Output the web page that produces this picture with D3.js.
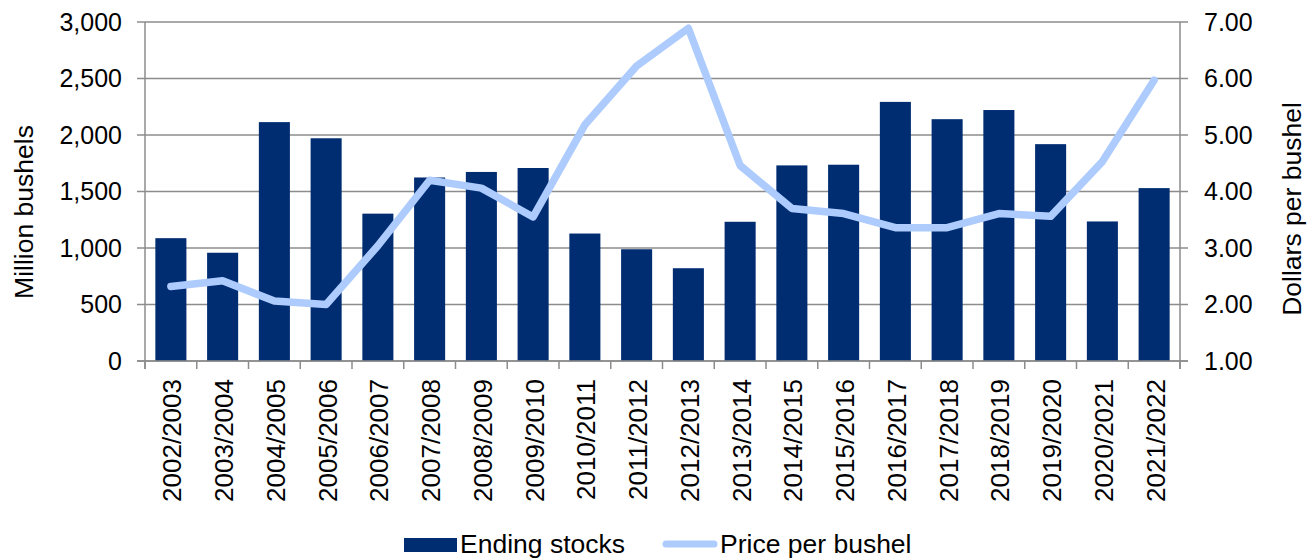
<!DOCTYPE html>
<html>
<head>
<meta charset="utf-8">
<script src="https://cdn.jsdelivr.net/npm/d3@7"></script>
<style>
  html, body { margin: 0; padding: 0; background: #fff; }
  svg text { font-family: "Liberation Sans", Arial, sans-serif; fill: #000; }
</style>
</head>
<body>
<div id="chart"></div>
<script>
const seasons = ["2002/2003", "2003/2004", "2004/2005", "2005/2006", "2006/2007", "2007/2008",
  "2008/2009", "2009/2010", "2010/2011", "2011/2012", "2012/2013", "2013/2014", "2014/2015",
  "2015/2016", "2016/2017", "2017/2018", "2018/2019", "2019/2020", "2020/2021", "2021/2022"];
const endingStocks = [1087, 958, 2114, 1971, 1304, 1624, 1673, 1708, 1128, 989, 821, 1232,
  1731, 1737, 2293, 2140, 2221, 1919, 1235, 1530];
const prices = [2.32, 2.42, 2.06, 2.00, 3.04, 4.20, 4.06, 3.55, 5.18, 6.22, 6.89, 4.46,
  3.70, 3.61, 3.36, 3.36, 3.61, 3.56, 4.53, 5.97];
const stockTicks = [0, 500, 1000, 1500, 2000, 2500, 3000];
const priceTicks = [1, 2, 3, 4, 5, 6, 7];

const W = 1314, H = 558;
const plot = { left: 145, right: 1180, top: 22, bottom: 361 };

const barColor = "#002d72";
const lineColor = "#adcbfd";
const gridColor = "#8c8c8c";

const svg = d3.select("#chart").append("svg")
    .attr("width", W)
    .attr("height", H);

const x = d3.scaleBand().domain(seasons).range([plot.left, plot.right]).paddingInner(0.4).paddingOuter(0.2);
const step = x.step();
const yL = d3.scaleLinear().domain([0, 3000]).range([plot.bottom, plot.top]);
const yR = d3.scaleLinear().domain([1, 7]).range([plot.bottom, plot.top]);

// gridlines + left ticks
svg.append("g")
    .selectAll("line")
    .data(stockTicks)
    .enter().append("line")
    .attr("x1", plot.left - 8)
    .attr("x2", plot.right)
    .attr("y1", d => yL(d))
    .attr("y2", d => yL(d))
    .attr("stroke", gridColor)
    .attr("stroke-width", 1.5);

// right ticks
svg.append("g")
    .selectAll("line")
    .data(priceTicks)
    .enter().append("line")
    .attr("x1", plot.right)
    .attr("x2", plot.right + 8)
    .attr("y1", d => yR(d))
    .attr("y2", d => yR(d))
    .attr("stroke", gridColor)
    .attr("stroke-width", 1.5);

// bottom ticks at band edges
const edges = d3.range(seasons.length + 1).map(i => plot.left + i * step);
svg.append("g")
    .selectAll("line")
    .data(edges)
    .enter().append("line")
    .attr("x1", d => d)
    .attr("x2", d => d)
    .attr("y1", plot.bottom)
    .attr("y2", plot.bottom + 8)
    .attr("stroke", gridColor)
    .attr("stroke-width", 1.5);

// bars
svg.append("g")
    .selectAll("rect")
    .data(endingStocks)
    .enter().append("rect")
    .attr("x", (d, i) => x(seasons[i]))
    .attr("width", x.bandwidth())
    .attr("y", d => yL(d))
    .attr("height", d => plot.bottom - yL(d))
    .attr("fill", barColor);

// axis lines
svg.append("line")
    .attr("x1", plot.left).attr("x2", plot.left)
    .attr("y1", plot.top).attr("y2", plot.bottom + 8)
    .attr("stroke", gridColor).attr("stroke-width", 1.5);
svg.append("line")
    .attr("x1", plot.right).attr("x2", plot.right)
    .attr("y1", plot.top).attr("y2", plot.bottom + 8)
    .attr("stroke", gridColor).attr("stroke-width", 1.5);
svg.append("line")
    .attr("x1", plot.left - 8).attr("x2", plot.right + 8)
    .attr("y1", plot.bottom).attr("y2", plot.bottom)
    .attr("stroke", gridColor).attr("stroke-width", 1.5);

// price line
const line = d3.line()
    .x((d, i) => x(seasons[i]) + x.bandwidth() / 2)
    .y(d => yR(d));

svg.append("path")
    .datum(prices)
    .attr("d", line)
    .attr("fill", "none")
    .attr("stroke", lineColor)
    .attr("stroke-width", 7.5)
    .attr("stroke-linejoin", "round")
    .attr("stroke-linecap", "round");

// tick labels
svg.append("g")
    .selectAll("text")
    .data(stockTicks)
    .enter().append("text")
    .attr("x", 122)
    .attr("y", d => yL(d))
    .attr("dy", "0.35em")
    .attr("text-anchor", "end")
    .style("font-size", "25px")
    .text(d3.format(","));

svg.append("g")
    .selectAll("text")
    .data(priceTicks)
    .enter().append("text")
    .attr("x", 1204)
    .attr("y", d => yR(d))
    .attr("dy", "0.35em")
    .style("font-size", "25px")
    .text(d3.format(".2f"));

svg.append("g")
    .selectAll("text")
    .data(seasons)
    .enter().append("text")
    .attr("transform", d => `translate(${x(d) + x.bandwidth() / 2 + 1},379) rotate(-90)`)
    .attr("dy", "0.36em")
    .attr("text-anchor", "end")
    .style("font-size", "26px")
    .text(d => d);

// axis titles
svg.append("text")
    .attr("transform", "translate(33,212) rotate(-90)")
    .attr("text-anchor", "middle")
    .style("font-size", "26.5px")
    .text("Million bushels");

svg.append("text")
    .attr("transform", "translate(1301,209) rotate(-90)")
    .attr("text-anchor", "middle")
    .style("font-size", "26.5px")
    .text("Dollars per bushel");

// legend
const legend = svg.append("g");
legend.append("rect")
    .attr("x", 404).attr("y", 538)
    .attr("width", 53).attr("height", 14)
    .attr("fill", barColor);
legend.append("text")
    .attr("x", 460).attr("y", 552.5)
    .style("font-size", "26.5px")
    .text("Ending stocks");
legend.append("line")
    .attr("x1", 666).attr("x2", 714)
    .attr("y1", 544).attr("y2", 544)
    .attr("stroke", lineColor)
    .attr("stroke-width", 7)
    .attr("stroke-linecap", "round");
legend.append("text")
    .attr("x", 720).attr("y", 552.5)
    .style("font-size", "26.5px")
    .text("Price per bushel");
</script>
</body>
</html>
